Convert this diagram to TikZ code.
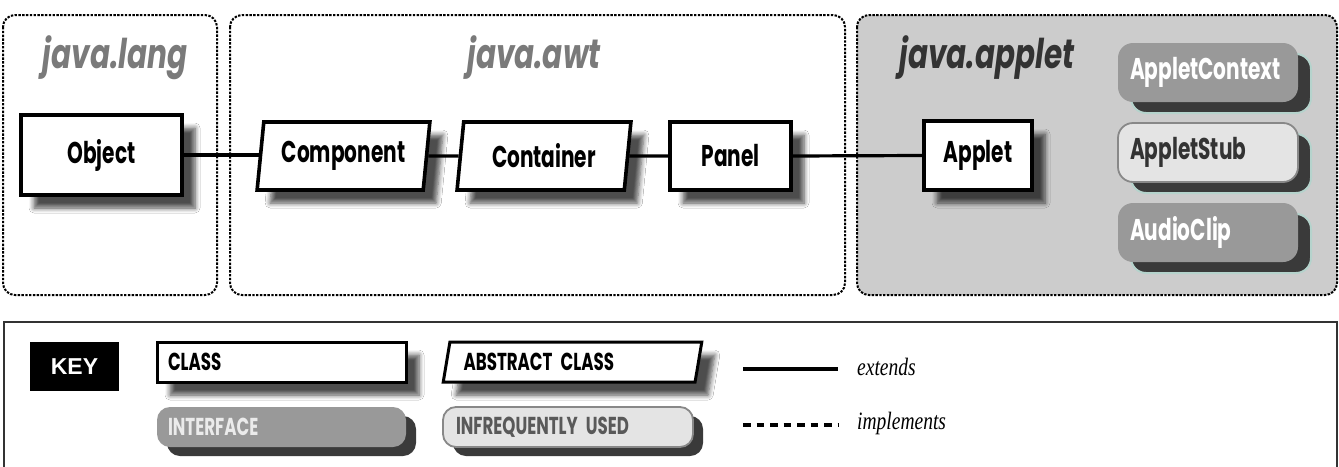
\documentclass[tikz,border=0pt]{standalone}
\usepackage{fontspec}
\usetikzlibrary{shapes.geometric,shadows,shadows.blur}
\newfontfamily\futf[FakeStretch=0.67]{Poppins}
\newfontfamily\titf[FakeStretch=0.72]{Poppins}
\newfontfamily\keyf[FakeStretch=0.68]{Poppins}
\newfontfamily\ital[FakeStretch=0.78]{Liberation Serif}
\newfontfamily\arialf{Liberation Sans}
\definecolor{pkggray}{HTML}{7A7A7A}
\definecolor{pkgdark}{HTML}{333333}
\definecolor{appletbg}{HTML}{CCCCCC}
\definecolor{ifacefill}{HTML}{999999}
\definecolor{rarefill}{HTML}{E4E4E4}
\definecolor{raredraw}{HTML}{888888}
\definecolor{halo}{HTML}{B5D3CC}
\definecolor{shad}{HTML}{3A3A3A}
\tikzset{
  pkg/.style={draw=black, line width=2pt, dash pattern=on 2.4pt off 1.4pt, rounded corners=12pt},
  pkgtitle/.style={font=\titf\fontsize{41}{41}\selectfont\bfseries\itshape, inner sep=0pt},
  blurshad/.style={blur shadow={shadow xshift=13pt, shadow yshift=-13pt, shadow blur steps=6, shadow blur radius=5pt, shadow opacity=70}},
  cls/.style={draw=black, line width=3.6pt, fill=white, inner sep=0pt, font=\futf\fontsize{30}{30}\selectfont\bfseries, blurshad},
  abscls/.style={cls, trapezium, trapezium stretches=true, trapezium left angle=80, trapezium right angle=100},
  ifshadow/.style={general shadow={fill=shad, draw=halo, line width=2pt, shadow xshift=13pt, shadow yshift=-11pt}},
  iface/.style={rounded corners=15pt, fill=ifacefill, text=white, inner xsep=12pt, inner ysep=0pt, minimum width=180pt, minimum height=59pt, text width=156pt, align=left, font=\futf\fontsize{30}{30}\selectfont\bfseries, ifshadow},
  rare/.style={iface, fill=rarefill, draw=raredraw, line width=1.8pt, text=pkgdark},
  ext/.style={line width=3.2pt},
  keyfont/.style={font=\keyf\fontsize{24.5}{24.5}\selectfont\bfseries, align=left},
  keycls/.style={draw=black, line width=3pt, fill=white, inner sep=1pt, minimum width=249pt, minimum height=40pt, keyfont, blurshad},
  keyiface/.style={rounded corners=13pt, fill=ifacefill, inner sep=1pt, minimum width=249pt, minimum height=40pt, keyfont, general shadow={fill=shad, shadow xshift=10pt, shadow yshift=-9pt}},
  keyrare/.style={keyiface, fill=rarefill, draw=raredraw, line width=1.8pt, minimum width=250pt},
  relword/.style={font=\ital\fontsize{25}{25}\selectfont\itshape, inner sep=0pt, anchor=west}
}
\begin{document}
\begin{tikzpicture}[x=1pt,y=-1pt]
\useasboundingbox (0,0) rectangle (1339,466);
\fill[white] (0,0) rectangle (1339,466);
% packages
\draw[pkg] (3,15) rectangle (217,295);
\draw[pkg] (230,15) rectangle (845,295);
\draw[pkg, fill=appletbg] (857,15) rectangle (1337,295);
\node[pkgtitle, text=pkggray] (tlang) at (115,58) {java.lang};
\node[pkgtitle, text=pkggray] (tawt) at (534,58) {java.awt};
\node[pkgtitle, text=pkgdark] (tapplet) at (987,58) {java.applet};
% classes
\node[cls, minimum width=161pt, minimum height=80pt] (object) at (101.5,155) {Object};
\node[abscls, minimum width=173pt, minimum height=68pt] (component) at (343.5,156) {Component};
\node[abscls, minimum width=174pt, minimum height=68pt] (container) at (544,156) {Container};
\node[cls, minimum width=121pt, minimum height=68pt] (panel) at (730.5,156) {Panel};
\node[cls, minimum width=108pt, minimum height=69pt] (applet) at (978,155.5) {Applet};
% connectors
\draw[ext] (object.east) -- (object.east -| component.west);
\draw[ext] (component.east) -- (container.west);
\draw[ext] (container.east) -- (panel.west);
\draw[ext] (panel.east) -- (applet.west);
% interfaces
\node[iface] (ctx) at (1208,72.5) {AppletContext};
\node[rare] (stub) at (1208,152.5) {AppletStub};
\node[iface] (audio) at (1208,232.5) {AudioClip};
% key
\draw[line width=2.4pt, draw=pkgdark] (4,480) -- (4,322) -- (1337,322) -- (1337,480);
\node[fill=black, text=white, minimum width=89pt, minimum height=49pt, inner sep=0pt, font=\arialf\fontsize{23}{23}\selectfont\bfseries] (key) at (74.5,366.5) {KEY};
\node[keycls, text width=227pt] (kclass) at (281.5,362) {CLASS};
\node[keycls, trapezium, trapezium stretches=true, trapezium left angle=73, trapezium right angle=107, minimum width=259pt, text width=218pt] (kabs) at (572.5,362) {ABSTRACT CLASS};
\node[keyiface, text width=227pt, text=white!92!black] (kiface) at (281.5,427) {INTERFACE};
\node[keyrare, text width=224pt, text=black!65] (krare) at (568,427) {INFREQUENTLY USED};
\coordinate (e1) at (743,369);
\coordinate (e2) at (838,369);
\coordinate (i1) at (743,425);
\coordinate (i2) at (838,425);
\draw[ext] (e1) -- (e2);
\draw[line width=3.2pt, dash pattern=on 7.5pt off 6pt] (i1) -- (i2);
\node[relword] (extends) at (857,367) {extends};
\node[relword] (implements) at (857,423) {implements};
\end{tikzpicture}
\end{document}
